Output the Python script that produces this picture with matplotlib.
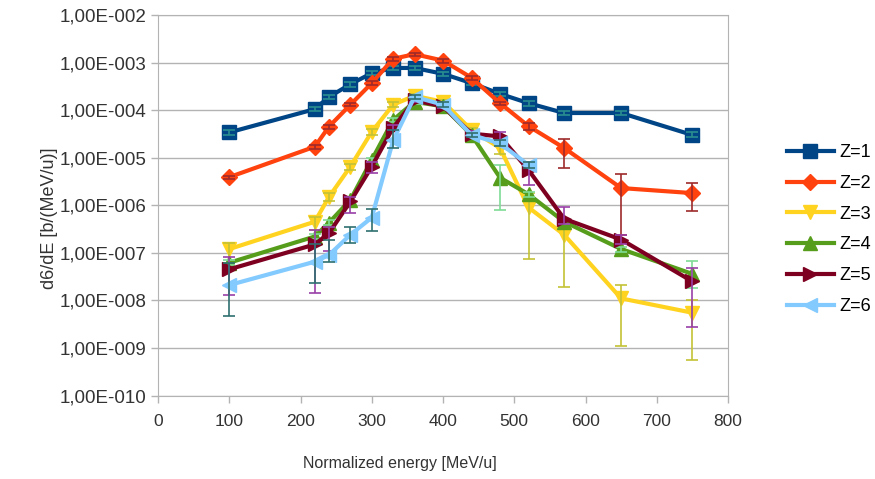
import numpy as np
import matplotlib.pyplot as plt
from matplotlib.ticker import FixedLocator, FuncFormatter, NullLocator

plt.rcParams['font.family'] = ['Liberation Sans', 'DejaVu Sans']

# energies [MeV/u]
energy = [100, 220, 240, 270, 300, 330, 360, 400, 440, 480, 520, 570, 650, 750]

# Z=1
z1 = [3.4e-5, 1.05e-4, 1.9e-4, 3.5e-4, 6.0e-4, 7.7e-4, 7.7e-4, 5.8e-4, 3.7e-4, 2.2e-4, 1.4e-4, 8.7e-5, 8.7e-5, 3.0e-5]
z1_hi = [3.8e-5, 1.15e-4, 2.1e-4, 3.9e-4, 6.6e-4, 8.5e-4, 8.5e-4, 6.4e-4, 4.1e-4, 2.4e-4, 1.55e-4, 9.6e-5, 9.6e-5, 3.5e-5]
z1_lo = [3.0e-5, 9.5e-5, 1.7e-4, 3.1e-4, 5.4e-4, 6.9e-4, 6.9e-4, 5.2e-4, 3.3e-4, 2.0e-4, 1.25e-4, 7.8e-5, 7.8e-5, 2.7e-5]

# Z=2
z2 = [3.9e-6, 1.7e-5, 4.5e-5, 1.3e-4, 3.7e-4, 1.2e-3, 1.5e-3, 1.1e-3, 4.8e-4, 1.4e-4, 4.6e-5, 1.6e-5, 2.3e-6, 1.8e-6]
z2_hi = [4.2e-6, 1.85e-5, 4.9e-5, 1.4e-4, 4.0e-4, 1.3e-3, 1.6e-3, 1.2e-3, 5.2e-4, 1.5e-4, 5.3e-5, 2.45e-5, 4.6e-6, 2.9e-6]
z2_lo = [3.6e-6, 1.55e-5, 4.1e-5, 1.2e-4, 3.4e-4, 1.1e-3, 1.4e-3, 1.0e-3, 4.4e-4, 1.3e-4, 3.9e-5, 6.1e-6, 2.4e-7, 7.6e-7]

# Z=3
z3 = [1.2e-7, 4.5e-7, 1.5e-6, 6.5e-6, 3.5e-5, 1.3e-4, 2.0e-4, 1.5e-4, 3.8e-5, 1.6e-5, 9.0e-7, 2.4e-7, 1.1e-8, 5.5e-9]
z3_hi = [1.6e-7, 5.8e-7, 1.8e-6, 7.5e-6, 4.0e-5, 1.45e-4, 2.2e-4, 1.65e-4, 4.2e-5, 2.0e-5, 1.8e-6, 4.5e-7, 2.1e-8, 1.0e-8]
z3_lo = [6.2e-8, 3.0e-7, 1.2e-6, 5.5e-6, 3.0e-5, 1.15e-4, 1.8e-4, 1.35e-4, 3.4e-5, 1.2e-5, 7.4e-8, 1.9e-8, 1.1e-9, 5.6e-10]

# Z=4
z4 = [6.2e-8, 2.2e-7, 4.3e-7, 1.3e-6, 9.0e-6, 6.2e-5, 1.5e-4, 1.2e-4, 3.0e-5, 3.8e-6, 1.7e-6, 4.5e-7, 1.2e-7, 3.6e-8]
z4_hi = [7.0e-8, 2.5e-7, 4.9e-7, 1.5e-6, 1.0e-5, 6.8e-5, 1.65e-4, 1.3e-4, 3.3e-5, 7.1e-6, 1.9e-6, 5.0e-7, 1.35e-7, 6.8e-8]
z4_lo = [5.5e-8, 1.95e-7, 3.8e-7, 1.15e-6, 8.0e-6, 5.6e-5, 1.35e-4, 1.1e-4, 2.7e-5, 8.0e-7, 1.5e-6, 4.0e-7, 1.05e-7, 1.8e-8]

# Z=5
z5 = [4.5e-8, 1.5e-7, 2.6e-7, 1.2e-6, 6.5e-6, 4.3e-5, 1.6e-4, 1.2e-4, 3.2e-5, 2.8e-5, 5.5e-6, 5.2e-7, 1.9e-7, 2.5e-8]
z5_hi = [8.3e-8, 3.0e-7, 3.5e-7, 1.5e-6, 8.0e-6, 4.8e-5, 1.75e-4, 1.3e-4, 3.6e-5, 3.4e-5, 8.3e-6, 9.3e-7, 2.4e-7, 4.7e-8]
z5_lo = [1.3e-8, 1.45e-8, 1.1e-7, 7.0e-7, 4.8e-6, 3.8e-5, 1.45e-4, 1.1e-4, 2.8e-5, 2.4e-5, 2.7e-6, 4.0e-7, 1.5e-7, 2.8e-9]

# Z=6 (no data above 520 MeV/u)
energy6 = [100, 220, 240, 270, 300, 330, 360, 400, 440, 480, 520]
z6 = [2.1e-8, 6.5e-8, 9.0e-8, 2.4e-7, 5.5e-7, 2.3e-5, 1.9e-4, 1.3e-4, 3.0e-5, 2.0e-5, 7.0e-6]
z6_hi = [6.0e-8, 1.5e-7, 1.9e-7, 3.5e-7, 8.3e-7, 3.8e-5, 2.1e-4, 1.45e-4, 3.3e-5, 2.3e-5, 8.0e-6]
z6_lo = [4.6e-9, 2.3e-8, 6.5e-8, 1.6e-7, 2.9e-7, 1.6e-5, 1.7e-4, 1.15e-4, 2.7e-5, 1.8e-5, 6.0e-6]

series = [
    ('Z=1', energy, z1, z1_lo, z1_hi, 's', '#004586', '#2a8f8f'),
    ('Z=2', energy, z2, z2_lo, z2_hi, 'D', '#ff420e', '#9e2a2a'),
    ('Z=3', energy, z3, z3_lo, z3_hi, 'v', '#ffd320', '#c2c236'),
    ('Z=4', energy, z4, z4_lo, z4_hi, '^', '#579d1c', '#7fdc96'),
    ('Z=5', energy, z5, z5_lo, z5_hi, '>', '#7e0021', '#9a3fa8'),
    ('Z=6', energy6, z6, z6_lo, z6_hi, '<', '#83caff', '#2f6f6f'),
]

fig = plt.figure(figsize=(8.75, 4.79), dpi=100)
ax = fig.add_axes([0.1806, 0.1743, 0.6514, 0.7944])

handles = []
for i, (name, x, y, lo, hi, mk, col, ecol) in enumerate(series):
    y = np.array(y)
    yerr = [y - np.array(lo), np.array(hi) - y]
    h, = ax.plot(x, y, color=col, lw=3, marker=mk, ms=10 if mk != 'D' else 8,
                 mec=col, mfc=col, label=name, zorder=3 + i)
    ax.errorbar(x, y, yerr=yerr, fmt='none', ecolor=ecol, elinewidth=1.2,
                capsize=4, capthick=1.2, zorder=3.5 + i)
    handles.append(h)

ax.set_yscale('log')
ax.set_ylim(1e-10, 1e-2)
ax.set_xlim(0, 800)
ax.yaxis.set_major_locator(FixedLocator([10.0 ** e for e in range(-10, -1)]))
ax.yaxis.set_minor_locator(NullLocator())
ax.yaxis.set_major_formatter(FuncFormatter(lambda v, p: '1,00E-%03d' % round(-np.log10(v))))
ax.set_xticks(range(0, 801, 100))

ax.grid(axis='y', color='#b3b3b3', lw=1)
ax.set_axisbelow(True)
for s in ax.spines.values():
    s.set_color('#b3b3b3')
ax.tick_params(colors='#b3b3b3', labelcolor='#333333', length=5, width=1)
ax.tick_params(axis='y', labelsize=13.5)
ax.tick_params(axis='x', labelsize=12.5, pad=8)

fig.text(0.057, 0.545, 'd6/dE [b/(MeV/u)]', rotation=90, ha='center', va='center',
         fontsize=13, color='#333333')
fig.text(0.457, 0.033, 'Normalized energy [MeV/u]', ha='center', va='center',
         fontsize=11.5, color='#333333')

fig.legend(handles=handles, loc='upper left', bbox_to_anchor=(0.891, 0.714),
           frameon=False, fontsize=13, handlelength=2.6, labelspacing=0.76,
           handletextpad=0.3, borderaxespad=0)

fig.savefig('out.png', dpi=100)
